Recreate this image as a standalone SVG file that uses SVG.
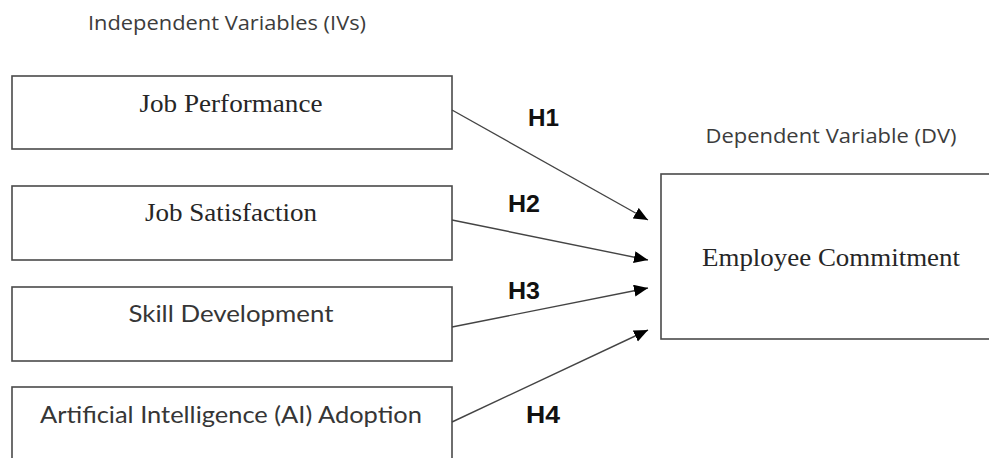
<svg xmlns="http://www.w3.org/2000/svg" width="989" height="458" viewBox="0 0 989 458">
<style>
.box{fill:#fff;stroke:#4a4a4a;stroke-width:1.6}
.hdr{font-family:"Open Sans","Liberation Sans",sans-serif;font-size:20px;fill:#3c3c3c}
.ser{font-family:"Liberation Serif",serif;font-size:26px;fill:#262626}
.cal{font-family:Lato,"Liberation Sans",sans-serif;font-size:24px;fill:#363636}
.hl{font-family:"Liberation Sans",Arial,sans-serif;font-size:23px;font-weight:bold;fill:#111}
.conn{stroke:#444;stroke-width:1.4;fill:none;marker-end:url(#ah)}
</style>
<defs>
<marker id="ah" markerUnits="userSpaceOnUse" markerWidth="15" markerHeight="13" refX="14" refY="6" orient="auto">
<path d="M0,0 L14,6 L0,12 z" fill="#000"/>
</marker>
</defs>
<rect width="989" height="458" fill="#fff"/>
<text class="hdr" x="227" y="30" text-anchor="middle" textLength="278" lengthAdjust="spacingAndGlyphs">Independent Variables (IVs)</text>
<text class="hdr" x="831" y="143" text-anchor="middle" textLength="251" lengthAdjust="spacingAndGlyphs">Dependent Variable (DV)</text>
<g id="jp">
<rect class="box" x="12" y="76" width="440" height="73"/>
<text class="ser" x="231" y="112" text-anchor="middle" textLength="183" lengthAdjust="spacingAndGlyphs">Job Performance</text>
</g>
<g id="js">
<rect class="box" x="12" y="186" width="440" height="74"/>
<text class="ser" x="231" y="221" text-anchor="middle" textLength="172" lengthAdjust="spacingAndGlyphs">Job Satisfaction</text>
</g>
<g id="sd">
<rect class="box" x="12" y="287" width="440" height="74"/>
<text class="cal" x="231" y="322" text-anchor="middle" textLength="205" lengthAdjust="spacingAndGlyphs">Skill Development</text>
</g>
<g id="ai">
<rect class="box" x="12" y="387" width="440" height="80"/>
<text class="cal" x="231" y="423" text-anchor="middle" textLength="382" lengthAdjust="spacingAndGlyphs">Artificial Intelligence (AI) Adoption</text>
</g>
<g id="ec">
<rect class="box" x="661" y="174" width="340" height="165"/>
<text class="ser" x="831" y="266" text-anchor="middle" textLength="258" lengthAdjust="spacingAndGlyphs">Employee Commitment</text>
</g>
<g id="connectors">
<line class="conn" x1="452" y1="110" x2="648" y2="220"/>
<line class="conn" x1="452" y1="220" x2="648" y2="260"/>
<line class="conn" x1="452" y1="327" x2="648" y2="288"/>
<line class="conn" x1="452" y1="422" x2="648" y2="330"/>
<text class="hl" x="528" y="126" textLength="31" lengthAdjust="spacingAndGlyphs">H1</text>
<text class="hl" x="508" y="212" textLength="32" lengthAdjust="spacingAndGlyphs">H2</text>
<text class="hl" x="508" y="299" textLength="32" lengthAdjust="spacingAndGlyphs">H3</text>
<text class="hl" x="526" y="423" textLength="34" lengthAdjust="spacingAndGlyphs">H4</text>
</g>
</svg>
